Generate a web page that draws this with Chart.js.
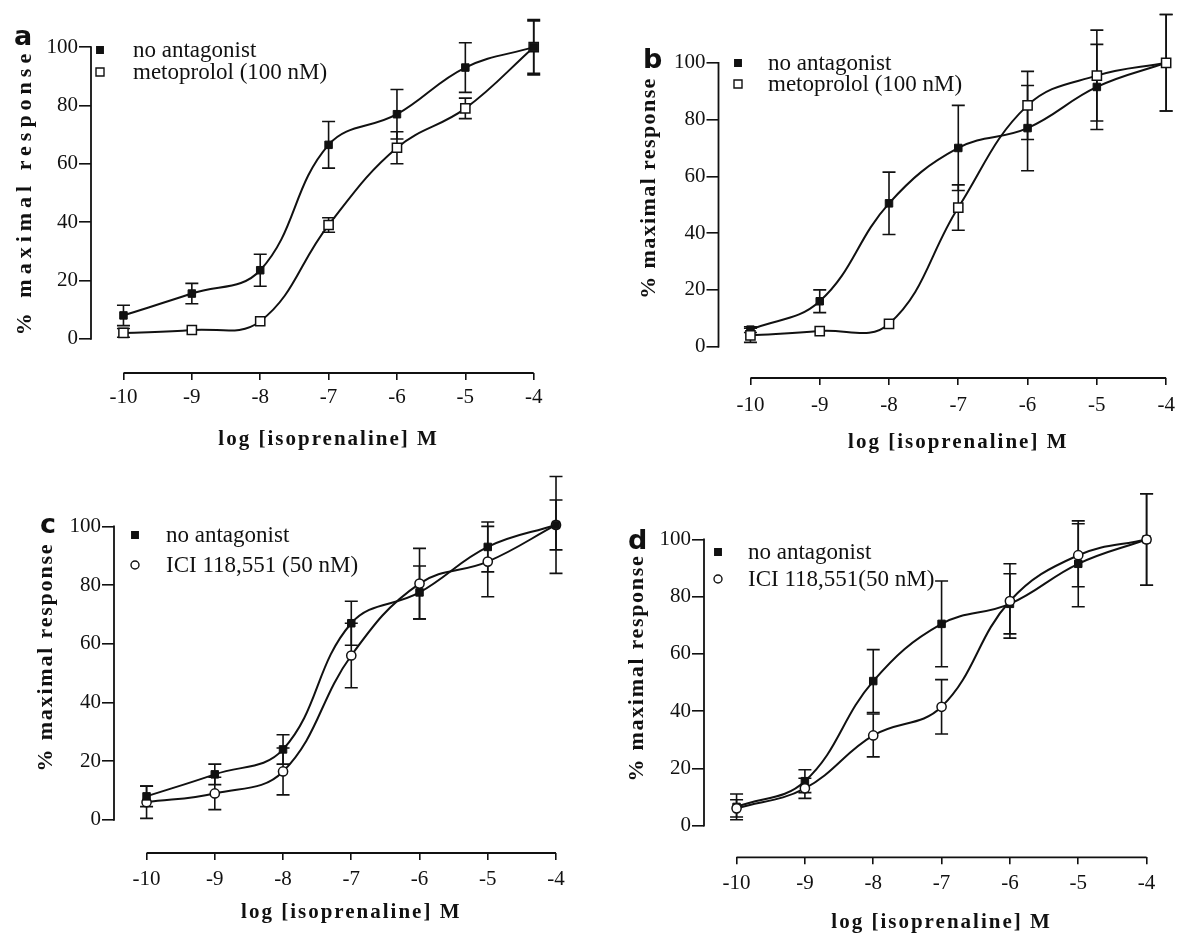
<!DOCTYPE html>
<html>
<head>
<meta charset="utf-8">
<script src="https://cdn.jsdelivr.net/npm/chart.js@4.4.1/dist/chart.umd.min.js"></script>
<style>
  html, body { margin: 0; padding: 0; background: #fff; overflow: hidden; }
  body { width: 1182px; height: 934px; position: relative; }
  canvas { position: absolute; }
</style>
</head>
<body>
<canvas id="chartA"></canvas>
<canvas id="chartB"></canvas>
<canvas id="chartC"></canvas>
<canvas id="chartD"></canvas>
<script>
// log [isoprenaline] M
const logConc = [-10, -9, -8, -7, -6, -5, -4];
const responseTicks = [0, 20, 40, 60, 80, 100];

// a: metoprolol
const aNoAntagonist = [8, 15.5, 23.5, 66.5, 77, 93, 100];
const aNoAntagonistErr = [3.5, 3.5, 5.5, 8, 8.5, 8.5, 9];
const aMetoprolol = [2, 3, 6, 39, 65.5, 79, 100];
const aMetoprololErr = [1.5, 0, 0, 2.5, 5.5, 3.5, 9.5];

// b: metoprolol
const bNoAntagonist = [6, 16, 50.5, 70, 77, 91.5, 100];
const bNoAntagonistErr = [1, 4, 11, 15, 15, 15, 17];
const bMetoprolol = [4, 5.5, 8, 49, 85, 95.5, 100];
const bMetoprololErr = [2.5, 0, 0, 8, 12, 16, 17];

// c: ICI 118,551
const cNoAntagonist = [8, 15.5, 24, 67, 77.5, 93, 100.5];
const cNoAntagonistErr = [3.5, 3.5, 5, 7.5, 9, 8.5, 8.5];
const cIci = [6, 9, 16.5, 56, 80.5, 88, 100.5];
const cIciErr = [5.5, 5.5, 8, 11, 12, 12, 16.5];

// d: ICI 118,551
const dNoAntagonist = [6.5, 15.5, 50.5, 70.5, 77.5, 91.5, 100];
const dNoAntagonistErr = [4.5, 4, 11, 15, 10.5, 15, 16];
const dIci = [6, 13, 31.5, 41.5, 78.5, 94.5, 100];
const dIciErr = [3, 3.5, 7.5, 9.5, 13, 11, 16];

const SERIF = "'Liberation Serif', 'Times New Roman', serif";
const INK = '#111';

// page geometry of each panel (axis positions in page pixels)
const boxA = { left: 0, top: 0, width: 585, height: 465, axisX: 91, x10: 124, x4: 541, y0: 338, y100: 40, xAxisY: 373,
  tickPadX: 5, xTitleY: 440, yTitleX: 25, yTitleMid: 192, yTitleSpacing: 5,
  letter: 'a', letterX: 14, letterBase: 45, legendX: 100, legendTextX: 133, legendRows: [50, 72] };
const boxB = { left: 590, top: 0, width: 592, height: 465, axisX: 718.5, x10: 751, x4: 1174, y0: 346, y100: 56, xAxisY: 378,
  tickPadX: 8, xTitleY: 443, yTitleX: 649, yTitleMid: 188, yTitleSpacing: 1.4,
  letter: 'b', letterX: 643, letterBase: 68, legendX: 738, legendTextX: 768, legendRows: [63, 84] };
const boxC = { left: 0, top: 465, width: 585, height: 469, axisX: 114, x10: 147, x4: 562, y0: 819.3, y100: 521, xAxisY: 853,
  tickPadX: 7, xTitleY: 913, yTitleX: 46, yTitleMid: 657, yTitleSpacing: 1.8,
  letter: 'c', letterX: 40, letterBase: 533, legendX: 135, legendTextX: 166, legendRows: [535, 565] };
const boxD = { left: 590, top: 465, width: 592, height: 469, axisX: 704, x10: 737, x4: 1152.5, y0: 825, y100: 534.3, xAxisY: 857.3,
  tickPadX: 6.5, xTitleY: 923, yTitleX: 637, yTitleMid: 668, yTitleSpacing: 1.7,
  letter: 'd', letterX: 628, letterBase: 549, legendX: 718, legendTextX: 748, legendRows: [552, 579] };

function drawMarker(ctx, kind, x, y, s) {
  ctx.save();
  ctx.lineWidth = 1.4;
  ctx.strokeStyle = INK;
  ctx.fillStyle = kind === 'filled' ? INK : '#fff';
  ctx.beginPath();
  if (kind === 'openCircle') ctx.arc(x, y, s / 2, 0, Math.PI * 2);
  else ctx.rect(x - s / 2, y - s / 2, s, s);
  ctx.fill();
  ctx.stroke();
  ctx.restore();
}

function decor(box, series) {
  return {
    id: 'decor',
    beforeDatasetsDraw(chart) {
      const { ctx, chartArea, scales: { x, y } } = chart;
      ctx.save();
      ctx.strokeStyle = INK;
      ctx.lineWidth = 1.8;
      ctx.beginPath();
      ctx.moveTo(chartArea.left, y.getPixelForValue(0) + 0.9);
      ctx.lineTo(chartArea.left, y.getPixelForValue(100) - 0.9);
      ctx.moveTo(x.getPixelForValue(logConc[0]), chartArea.bottom);
      ctx.lineTo(x.getPixelForValue(logConc[logConc.length - 1]), chartArea.bottom);
      ctx.stroke();

      // error bars
      ctx.lineWidth = 1.6;
      chart.data.datasets.forEach(ds => {
        ds.data.forEach((p, i) => {
          const e = ds.errors[i];
          if (!e) return;
          const px = x.getPixelForValue(p.x);
          const top = y.getPixelForValue(p.y + e);
          const bot = y.getPixelForValue(p.y - e);
          ctx.beginPath();
          ctx.moveTo(px, top); ctx.lineTo(px, bot);
          ctx.moveTo(px - 6.5, top); ctx.lineTo(px + 6.5, top);
          ctx.moveTo(px - 6.5, bot); ctx.lineTo(px + 6.5, bot);
          ctx.stroke();
        });
      });
      ctx.restore();
    },
    afterDraw(chart) {
      const { ctx, scales: { x } } = chart;
      ctx.save();
      ctx.fillStyle = INK;

      // legend
      ctx.font = `23px ${SERIF}`;
      ctx.textAlign = 'left';
      ctx.textBaseline = 'middle';
      series.forEach((s, i) => {
        const ly = box.legendRows[i] - box.top;
        drawMarker(ctx, s.marker, box.legendX - box.left, ly, s.marker === 'filled' ? 6.5 : 8);
        ctx.fillText(s.label, box.legendTextX - box.left, ly + 1);
      });

      // panel letter
      ctx.font = "bold 27px 'DejaVu Sans', sans-serif";
      ctx.textBaseline = 'alphabetic';
      ctx.fillText(box.letter, box.letterX - box.left, box.letterBase - box.top);

      // axis titles
      ctx.font = `bold 21px ${SERIF}`;
      ctx.textAlign = 'center';
      ctx.textBaseline = 'middle';
      ctx.letterSpacing = '2px';
      const mid = (logConc[0] + logConc[logConc.length - 1]) / 2;
      ctx.fillText('log [isoprenaline] M', x.getPixelForValue(mid), box.xTitleY - box.top);

      ctx.font = `bold 22px ${SERIF}`;
      ctx.translate(box.yTitleX - box.left, box.yTitleMid - box.top);
      ctx.rotate(-Math.PI / 2);
      ctx.letterSpacing = box.yTitleSpacing + 'px';
      ctx.fillText('% maximal response', 0, 0);
      ctx.restore();
    }
  };
}

function buildChart(canvasId, box, series) {
  const ux = (box.x4 - box.x10) / (logConc[logConc.length - 1] - logConc[0]);
  const uy = (box.y0 - box.y100) / 100;
  const yAxisW = box.axisX - box.left;
  const xAxisH = box.top + box.height - box.xAxisY;
  const canvas = document.getElementById(canvasId);
  canvas.width = box.width;
  canvas.height = box.height;
  canvas.style.left = box.left + 'px';
  canvas.style.top = box.top + 'px';

  const tickFont = { family: SERIF, size: 21 };

  return new Chart(canvas, {
    type: 'line',
    data: {
      datasets: series.map(s => ({
        label: s.label,
        data: logConc.map((v, i) => ({ x: v, y: s.values[i] })),
        errors: s.errors,
        order: s.order,
        borderColor: INK,
        borderWidth: 2,
        tension: 0.4,
        clip: false,
        pointStyle: s.marker === 'openCircle' ? 'circle' : 'rect',
        pointRadius: s.marker === 'filled' ? 5.3 : (s.marker === 'openSquare' ? 6.5 : 4.6),
        pointBackgroundColor: s.marker === 'filled' ? INK : '#fff',
        pointBorderColor: INK,
        pointBorderWidth: s.marker === 'filled' ? 1 : 1.5
      }))
    },
    options: {
      responsive: false,
      animation: false,
      events: [],
      layout: { padding: 0 },
      plugins: { legend: { display: false }, tooltip: { enabled: false } },
      scales: {
        x: {
          type: 'linear',
          bounds: 'data',
          min: logConc[0] - (box.x10 - box.axisX) / ux,
          max: logConc[logConc.length - 1] + (box.left + box.width - box.x4) / ux,
          afterBuildTicks: s => { s.ticks = logConc.map(v => ({ value: v })); },
          afterFit: s => { s.height = xAxisH; s.paddingLeft = 0; s.paddingRight = 0; },
          grid: { drawOnChartArea: false, tickLength: 7, color: INK, lineWidth: 1.6 },
          border: { display: false },
          ticks: { autoSkip: false, maxRotation: 0, padding: box.tickPadX, color: INK, font: tickFont,
                   callback: v => String(v) }
        },
        y: {
          type: 'linear',
          bounds: 'data',
          min: -(box.xAxisY - box.y0) / uy,
          max: (box.y0 - box.top) / uy,
          afterBuildTicks: s => { s.ticks = responseTicks.map(v => ({ value: v })); },
          afterFit: s => { s.width = yAxisW; s.paddingTop = 0; s.paddingBottom = 0; },
          grid: { drawOnChartArea: false, tickLength: 12, color: INK, lineWidth: 1.6 },
          border: { display: false },
          ticks: { autoSkip: false, padding: 1, color: INK, font: tickFont, callback: v => String(v) }
        }
      }
    },
    plugins: [decor(box, series)]
  });
}

buildChart('chartA', boxA, [
  { label: 'no antagonist', values: aNoAntagonist, errors: aNoAntagonistErr, marker: 'filled', order: 0 },
  { label: 'metoprolol (100 nM)', values: aMetoprolol, errors: aMetoprololErr, marker: 'openSquare', order: 1 }
]);
buildChart('chartB', boxB, [
  { label: 'no antagonist', values: bNoAntagonist, errors: bNoAntagonistErr, marker: 'filled', order: 1 },
  { label: 'metoprolol (100 nM)', values: bMetoprolol, errors: bMetoprololErr, marker: 'openSquare', order: 0 }
]);
buildChart('chartC', boxC, [
  { label: 'no antagonist', values: cNoAntagonist, errors: cNoAntagonistErr, marker: 'filled', order: 0 },
  { label: 'ICI 118,551 (50 nM)', values: cIci, errors: cIciErr, marker: 'openCircle', order: 1 }
]);
buildChart('chartD', boxD, [
  { label: 'no antagonist', values: dNoAntagonist, errors: dNoAntagonistErr, marker: 'filled', order: 1 },
  { label: 'ICI 118,551(50 nM)', values: dIci, errors: dIciErr, marker: 'openCircle', order: 0 }
]);
</script>
</body>
</html>
